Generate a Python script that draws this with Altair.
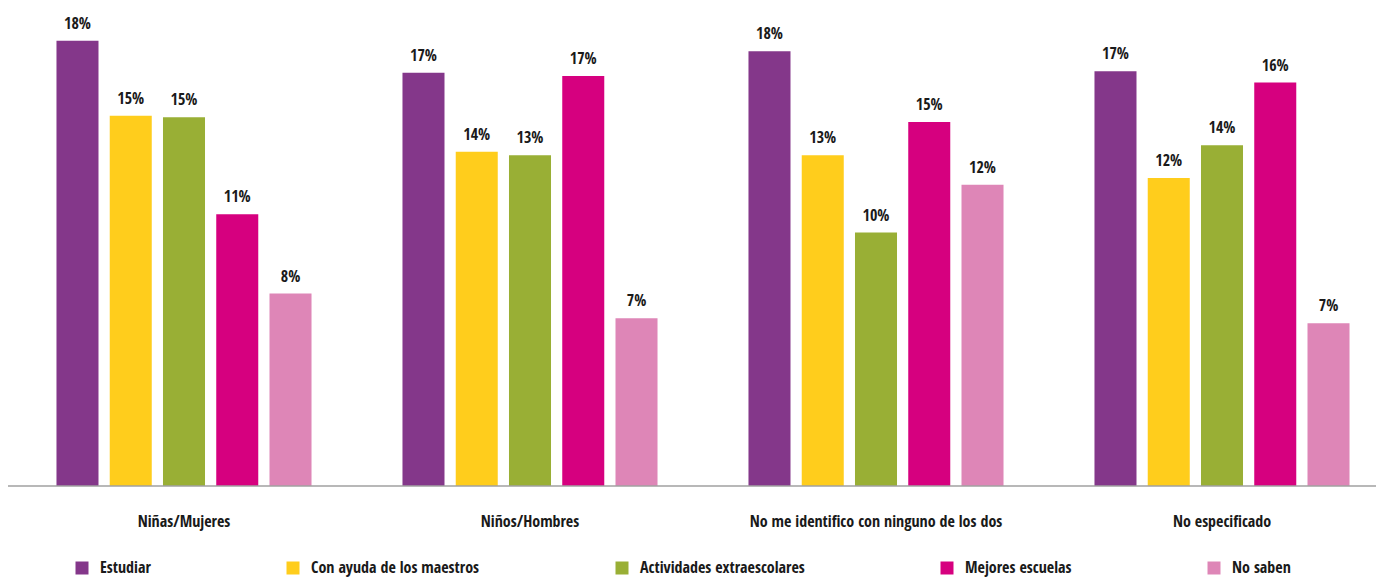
import altair as alt
import pandas as pd

groups = ["Niñas/Mujeres", "Niños/Hombres", "No me identifico con ninguno de los dos", "No especificado"]
series = ["Estudiar", "Con ayuda de los maestros", "Actividades extraescolares", "Mejores escuelas", "No saben"]
colors = ["#84378A", "#FFCD1C", "#99AF35", "#D6007F", "#DE86B7"]

estudiar = [18.02, 16.73, 17.60, 16.79]
con_ayuda = [14.99, 13.53, 13.39, 12.47]
actividades = [14.93, 13.39, 10.26, 13.79]
mejores = [11.00, 16.60, 14.74, 16.33]
no_saben = [7.79, 6.79, 12.19, 6.59]

rows = []
for s, vals in zip(series, [estudiar, con_ayuda, actividades, mejores, no_saben]):
    for g, v in zip(groups, vals):
        rows.append({"grupo": g, "serie": s, "valor": v})
df = pd.DataFrame(rows)

FONT = "Open Sans Condensed, Roboto Condensed, sans-serif"
TXT = "#1a1a1a"
FS = 16

x = alt.X(
    "grupo:N",
    sort=groups,
    scale=alt.Scale(range=[3, 1387], paddingInner=0, paddingOuter=0),
    axis=alt.Axis(
        title=None, domain=False, ticks=False, tickSize=0, grid=False,
        labelPadding=40, labelBaseline="alphabetic", labelAngle=0,
        labelFont=FONT, labelFontSize=FS, labelFontWeight="bold",
        labelColor=TXT, labelLimit=500,
    ),
)
xo = alt.XOffset("serie:N", sort=series, scale=alt.Scale(paddingInner=0.211, paddingOuter=0.854))
y = alt.Y("valor:Q", scale=alt.Scale(domain=[0, 19.35], nice=False, zero=True), axis=None)
color = alt.Color(
    "serie:N",
    sort=series,
    scale=alt.Scale(domain=series, range=colors),
    legend=alt.Legend(
        title=None, orient="none", legendX=66, legendY=552, direction="horizontal",
        symbolType="square", symbolSize=169, symbolStrokeWidth=0, symbolOpacity=1,
        labelFont=FONT, labelFontSize=FS, labelFontWeight="bold", labelColor=TXT,
        labelOffset=10, columnPadding=134, padding=0, labelLimit=500,
    ),
)

base = alt.Chart(df)
bars = base.mark_bar().encode(x=x, xOffset=xo, y=y, color=color)
labels = base.transform_calculate(
    etiqueta="format(datum.valor, '.0f') + '%'"
).mark_text(
    dy=-12, baseline="alphabetic", font=FONT, fontSize=FS, fontWeight="bold", color=TXT
).encode(x=x, xOffset=xo, y=y, text="etiqueta:N")

axis_line = alt.Chart(pd.DataFrame({"base": [0]})).mark_rule(
    color="#a0a0a0", strokeWidth=1.5
).encode(x=alt.value(0), x2=alt.value(1368), y=alt.Y("base:Q"))

chart = alt.layer(bars, labels, axis_line).properties(
    width=1368, height=478,
    autosize=alt.AutoSizeParams(type="none"),
    padding={"left": 0, "top": 0, "right": 0, "bottom": 91},
).configure_view(stroke=None)

chart.save("out.html", embed_options={"renderer": "svg", "actions": False})
